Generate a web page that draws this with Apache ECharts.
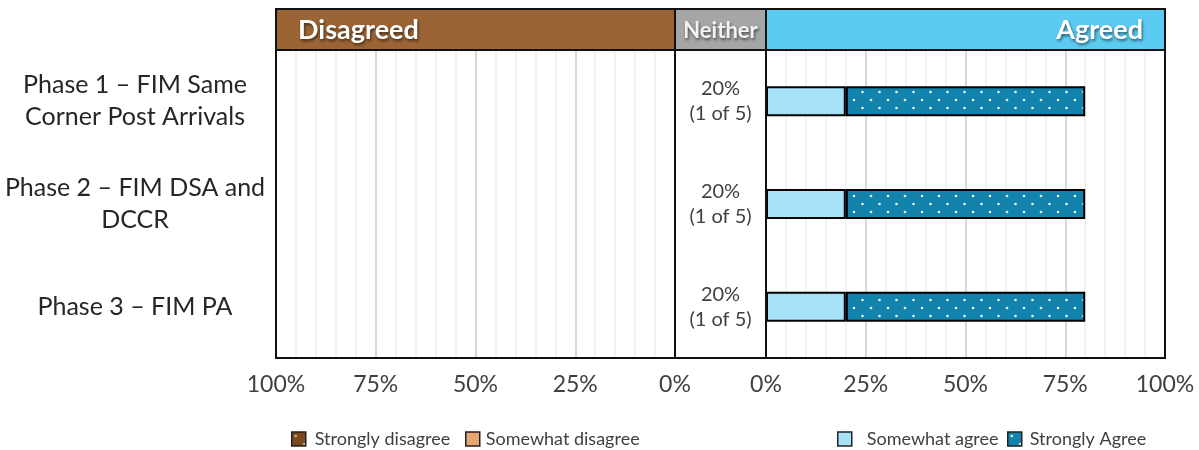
<!DOCTYPE html>
<html>
<head>
<meta charset="utf-8">
<script src="https://cdn.jsdelivr.net/npm/echarts@6/dist/echarts.min.js"></script>
<style>
  html, body { margin: 0; padding: 0; background: #fff; }
  #chart { width: 1199px; height: 450px; }
</style>
</head>
<body>
<div id="chart"></div>
<script>
// Survey responses per phase (percent of respondents)
const phases = [
  'Phase 1 – FIM Same\nCorner Post Arrivals',
  'Phase 2 – FIM DSA and\nDCCR',
  'Phase 3 – FIM PA'
];
const stronglyDisagree = [0, 0, 0];
const somewhatDisagree = [0, 0, 0];
const neitherPct = [20, 20, 20];
const neitherCount = [1, 1, 1];
const respondents = [5, 5, 5];
const somewhatAgree = [20, 20, 20];
const stronglyAgree = [60, 60, 60];
const axisTicks = [0, 25, 50, 75, 100];

// Panel geometry
const TOP = 50, PLOT_H = 308;
const L0 = 276, L1 = 675, M1 = 766, R1 = 1165;
const HEAD_TOP = 9;

const FONT = 'Lato, "Open Sans", sans-serif';

// Dotted fill used for the "strongly" segments
function dotted(bg, dot) {
  const c = document.createElement('canvas');
  c.width = 17; c.height = 16;
  const g = c.getContext('2d');
  g.fillStyle = bg; g.fillRect(0, 0, 17, 16);
  g.fillStyle = dot;
  g.beginPath(); g.arc(4, 4, 1.3, 0, Math.PI * 2); g.fill();
  g.beginPath(); g.arc(12.5, 12, 1.3, 0, Math.PI * 2); g.fill();
  return { image: c, repeat: 'repeat' };
}

const C_SD = dotted('#7A4A1E', '#d8b48c');
const C_WD = '#E5A670';
const C_WA = '#A6E1F7';
const C_SA = dotted('#1283AD', '#e8f6fb');

// Zero-length segments get no outline, so nothing is drawn for them
const segs = arr => arr.map(v => v > 0 ? v : { value: v, itemStyle: { borderWidth: 0 } });

const pctAxis = (grid, inverse) => ({
  type: 'value', gridIndex: grid, min: 0, max: 100, interval: 25, inverse,
  axisLine: { show: false }, axisTick: { show: false },
  axisLabel: {
    formatter: v => axisTicks.includes(v) ? v + '%' : '',
    color: '#404040', fontSize: 23, fontFamily: FONT, margin: 15,
    showMinLabel: true, showMaxLabel: true
  },
  splitLine: { show: true, lineStyle: { color: '#d9d9d9', width: 2 } },
  minorTick: { show: false, splitNumber: 5 },
  minorSplitLine: { show: true, lineStyle: { color: '#eeeeee', width: 1.5 } }
});

const catAxis = (grid, extra) => Object.assign({
  type: 'category', gridIndex: grid, data: phases, inverse: true,
  axisLine: { show: false }, axisTick: { show: false },
  axisLabel: { show: false }, splitLine: { show: false }
}, extra || {});

const barBase = {
  type: 'bar', barWidth: 30,
  emphasis: { disabled: true }
};

const legendBase = (name, left, pad) => ({
  data: [name], left, top: 425, itemWidth: 14, itemHeight: 14,
  icon: 'rect', selectedMode: false,
  itemStyle: { borderColor: '#222', borderWidth: 1.5 },
  textStyle: { color: '#404040', fontSize: 18, fontFamily: FONT, padding: [0, 0, 0, pad] }
});

const headerBox = (x0, x1, fill, text, align, tx, size, color) => ({
  type: 'group',
  children: [
    { type: 'rect', shape: { x: x0, y: HEAD_TOP, width: x1 - x0, height: TOP - HEAD_TOP },
      style: { fill, stroke: '#111', lineWidth: 2 } },
    { type: 'text', x: tx, y: (HEAD_TOP + TOP) / 2 + 1,
      style: { text, fill: color || '#fff', font: `bold ${size}px ${FONT}`, align, verticalAlign: 'middle',
        textShadowColor: 'rgba(0,0,0,0.55)', textShadowBlur: 3, textShadowOffsetX: 1, textShadowOffsetY: 2 } }
  ]
});

// Black outline drawn over each plotting panel
const panelFrame = (x0, x1) => ({
  type: 'rect', z: 100, silent: true,
  shape: { x: x0, y: TOP, width: x1 - x0, height: PLOT_H },
  style: { fill: 'none', stroke: '#111', lineWidth: 2 }
});

const chart = echarts.init(document.getElementById('chart'), null, { renderer: 'canvas' });
chart.setOption({
  animation: false,
  backgroundColor: '#fff',
  grid: [
    { left: L0, top: TOP, width: L1 - L0, height: PLOT_H },
    { left: L1, top: TOP, width: M1 - L1, height: PLOT_H },
    { left: M1, top: TOP, width: R1 - M1, height: PLOT_H }
  ],
  xAxis: [
    pctAxis(0, true),
    { type: 'value', gridIndex: 1, min: 0, max: 1, show: false },
    pctAxis(2, false)
  ],
  yAxis: [
    catAxis(0, {
      axisLabel: {
        show: true, color: '#262626', fontSize: 25, fontFamily: FONT,
        lineHeight: 32, align: 'center', margin: L0 - 135
      }
    }),
    catAxis(1, {
      axisLabel: {
        show: true, align: 'center', margin: -(M1 - L1) / 2,
        color: '#404040', fontSize: 20, fontFamily: FONT, lineHeight: 25,
        formatter: (v, i) => `${neitherPct[i]}%\n(${neitherCount[i]} of ${respondents[i]})`
      }
    }),
    catAxis(2)
  ],
  legend: [
    legendBase('Strongly disagree', 286, 4),
    legendBase('Somewhat disagree', 460, 1),
    legendBase('Somewhat agree', 832, 10),
    legendBase('Strongly Agree', 1002, 3)
  ],
  series: [
    Object.assign({}, barBase, { name: 'Somewhat disagree', xAxisIndex: 0, yAxisIndex: 0, stack: 'dis',
      data: segs(somewhatDisagree), itemStyle: { color: C_WD, borderColor: '#000', borderWidth: 2 } }),
    Object.assign({}, barBase, { name: 'Strongly disagree', xAxisIndex: 0, yAxisIndex: 0, stack: 'dis',
      data: segs(stronglyDisagree), itemStyle: { color: C_SD, borderColor: '#000', borderWidth: 2 } }),
    Object.assign({}, barBase, { name: 'Somewhat agree', xAxisIndex: 2, yAxisIndex: 2, stack: 'agr',
      data: segs(somewhatAgree), itemStyle: { color: C_WA, borderColor: '#000', borderWidth: 2 } }),
    Object.assign({}, barBase, { name: 'Strongly Agree', xAxisIndex: 2, yAxisIndex: 2, stack: 'agr',
      data: segs(stronglyAgree), itemStyle: { color: C_SA, borderColor: '#000', borderWidth: 2 } })
  ],
  graphic: [
    headerBox(L0, L1, '#9B6434', 'Disagreed', 'left', L0 + 22, 27),
    headerBox(L1, M1, '#A6A6A6', 'Neither', 'center', (L1 + M1) / 2, 22, '#f2f2f2'),
    headerBox(M1, R1, '#5BCBF2', 'Agreed', 'right', R1 - 22, 27),
    panelFrame(L0, L1),
    panelFrame(L1, M1),
    panelFrame(M1, R1)
  ]
});
</script>
</body>
</html>
